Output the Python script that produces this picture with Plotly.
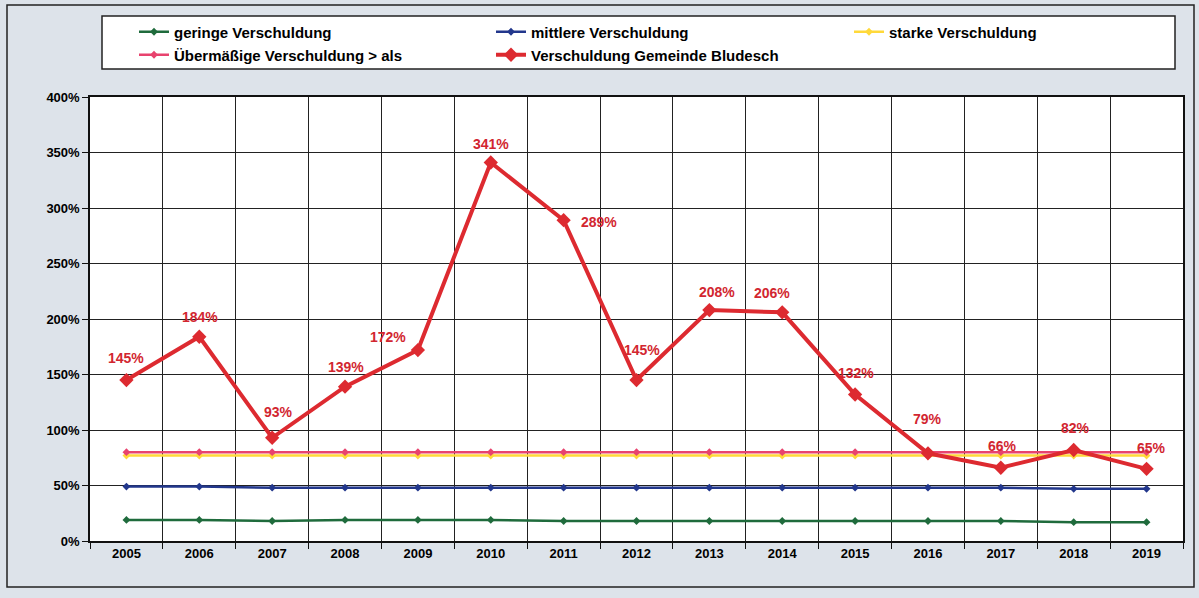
import plotly.graph_objects as go

years = [str(y) for y in range(2005, 2020)]
geringe = [19, 19, 18, 19, 19, 19, 18, 18, 18, 18, 18, 18, 18, 17, 17]
mittlere = [49, 49, 48, 48, 48, 48, 48, 48, 48, 48, 48, 48, 48, 47, 47]
starke = [77, 77, 77, 77, 77, 77, 77, 77, 77, 77, 77, 77, 77, 77, 77]
uebermaessig = [80, 80, 80, 80, 80, 80, 80, 80, 80, 80, 80, 80, 80, 80, 80]
bludesch = [145, 184, 93, 139, 172, 341, 289, 145, 208, 206, 132, 79, 66, 82, 65]

# label offsets (pixels) of the data labels relative to their points
label_dx = [0, 1, 6, 1, -30, 0, 35, 5, 8, -10, 1, 0, 2, 2, 5]
label_dy = [22, 20, 26, 20, 13, 18, -2, 30, 18, 19, 21, 34, 22, 22, 21]

FONT = "Liberation Sans"
RED = "#dd2a30"
xs = list(range(len(years)))
fig = go.Figure()

def const_trace(name, vals, color, legend):
    fig.add_trace(go.Scatter(
        x=xs, y=vals, name=name, mode="lines+markers", legend=legend,
        line=dict(color=color, width=2.5),
        marker=dict(symbol="diamond", size=6, color=color),
        hoverinfo="skip",
    ))

const_trace("geringe Verschuldung", geringe, "#1f6b3c", "legend")
const_trace("mittlere Verschuldung", mittlere, "#22378c", "legend2")
const_trace("starke Verschuldung", starke, "#ffd93a", "legend3")
const_trace("Übermäßige Verschuldung > als", uebermaessig, "#e8436e", "legend4")

fig.add_trace(go.Scatter(
    x=xs, y=bludesch, name="Verschuldung Gemeinde Bludesch",
    mode="lines+markers", legend="legend5",
    line=dict(color=RED, width=4),
    marker=dict(symbol="diamond", size=11, color=RED),
    hoverinfo="skip",
))

annotations = []
for i, (v, dx, dy) in enumerate(zip(bludesch, label_dx, label_dy)):
    annotations.append(dict(
        x=xs[i], y=v, xref="x", yref="y", text=f"<b>{v}%</b>", showarrow=False,
        xshift=dx, yshift=dy,
        font=dict(family=FONT, size=14, color="#d22630"),
    ))

W, H = 1199, 598
L, R, T, B = 90, 16, 97, 57
PW, PH = W - L - R, H - T - B

def px_x(p):
    return (p - L) / PW

def px_y(p):
    return (H - B - p) / PH

leg_common = dict(
    orientation="h", xanchor="left", yanchor="middle",
    bgcolor="rgba(0,0,0,0)", borderwidth=0,
    font=dict(family=FONT, size=15, weight="bold"),
    itemwidth=30,
)

ROW1, ROW2 = 32, 55
COL1, COL2, COL3 = 134, 491, 849

fig.update_layout(
    width=W, height=H,
    margin=dict(l=L, r=R, t=T, b=B, autoexpand=False),
    paper_bgcolor="#dde3ea",
    plot_bgcolor="white",
    font=dict(family=FONT, size=12, color="black"),
    showlegend=True,
    legend=dict(x=px_x(COL1), y=px_y(ROW1), **leg_common),
    legend2=dict(x=px_x(COL2), y=px_y(ROW1), **leg_common),
    legend3=dict(x=px_x(COL3), y=px_y(ROW1), **leg_common),
    legend4=dict(x=px_x(COL1), y=px_y(ROW2), **leg_common),
    legend5=dict(x=px_x(COL2), y=px_y(ROW2), **leg_common),
    annotations=annotations,
    xaxis=dict(
        range=[-0.5, len(years) - 0.5],
        tickmode="array", tickvals=xs, ticktext=years, ticks="",
        showgrid=False, zeroline=False,
        minor=dict(tickmode="linear", tick0=-0.5, dtick=1, ticks="outside",
                   ticklen=6, tickcolor="#111", showgrid=True,
                   gridcolor="#222", gridwidth=1),
        showline=True, linecolor="#111", linewidth=1.5, mirror=True,
        tickfont=dict(family=FONT, size=13, weight="bold"),
    ),
    yaxis=dict(
        range=[0, 400], dtick=50, ticksuffix="%", ticks="outside", ticklen=6,
        tickcolor="#111", showgrid=True, gridcolor="#222", gridwidth=1,
        showline=True, linecolor="#111", linewidth=1.5, mirror=True,
        zeroline=False,
        tickfont=dict(family=FONT, size=13, weight="bold"),
    ),
    shapes=[
        dict(type="rect", xref="paper", yref="paper",
             x0=px_x(7), x1=px_x(1194), y0=px_y(587), y1=px_y(5),
             line=dict(color="#222", width=1.5), layer="below"),
        dict(type="rect", xref="paper", yref="paper",
             x0=px_x(102), x1=px_x(1175), y0=px_y(69), y1=px_y(16),
             fillcolor="white", line=dict(color="#222", width=1.5), layer="below"),
    ],
)

fig.write_html(
    "out.html",
    config={"displayModeBar": False},
    post_script="document.body.style.margin='0';document.body.style.overflow='hidden';",
)
